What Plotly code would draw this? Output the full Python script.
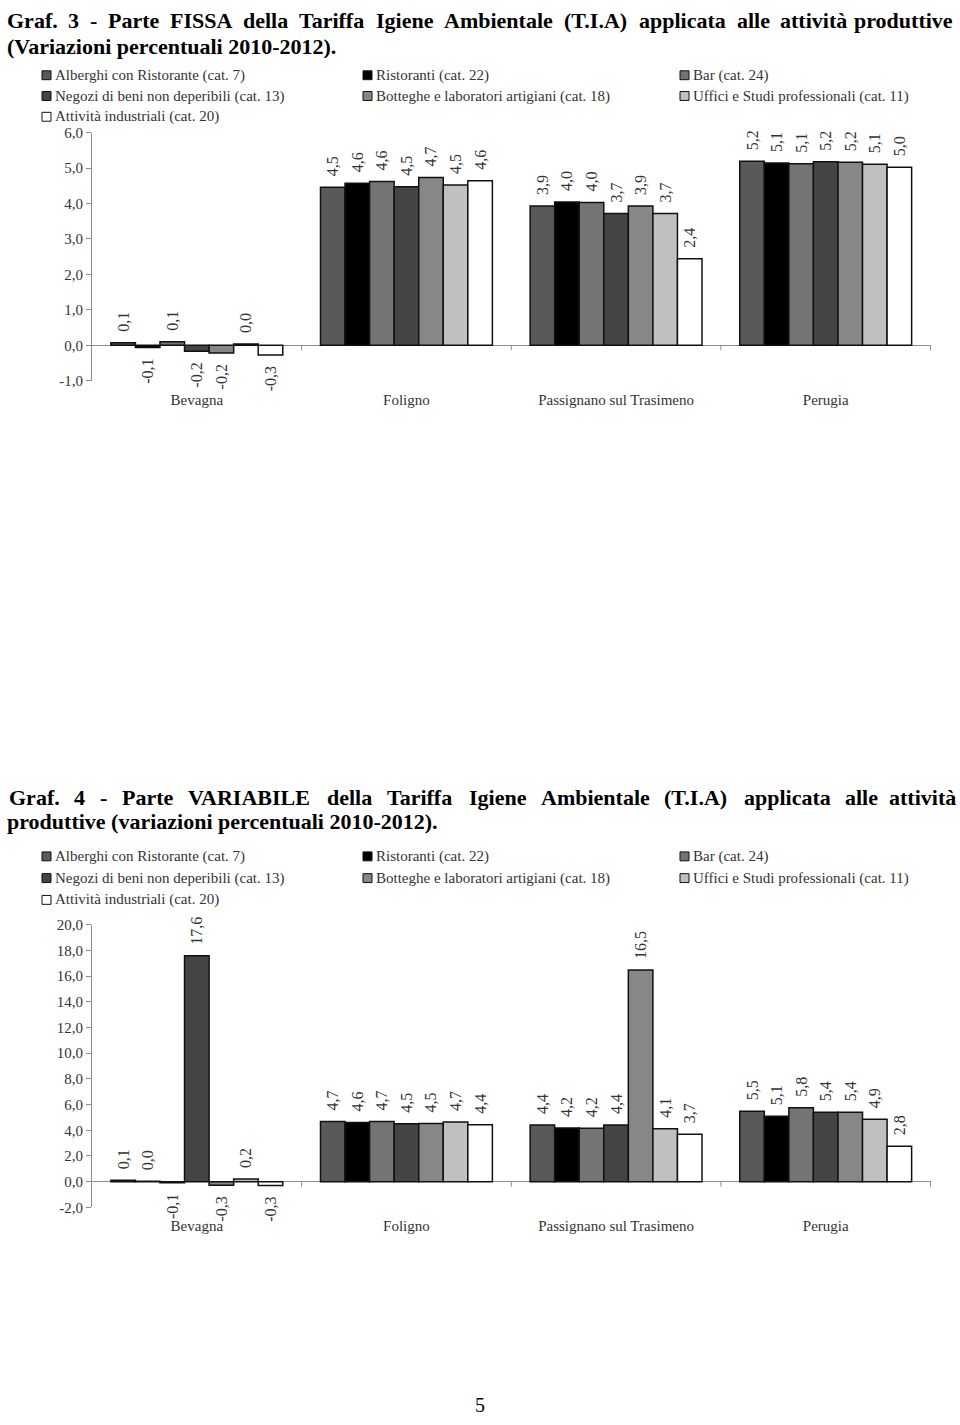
import numpy as np
import plotly.graph_objects as go

W, H = 960, 1425

categories = ["Bevagna", "Foligno", "Passignano sul Trasimeno", "Perugia"]
series_names = [
    "Alberghi con Ristorante (cat. 7)",
    "Ristoranti (cat. 22)",
    "Bar (cat. 24)",
    "Negozi di beni non deperibili (cat. 13)",
    "Botteghe e laboratori artigiani (cat. 18)",
    "Uffici e Studi professionali (cat. 11)",
    "Attività industriali (cat. 20)",
]
series_colors = ["#595959", "#000000", "#747474", "#454545", "#878787", "#c0c0c0", "#ffffff"]

# Graf. 3 - Parte FISSA (values per category: Bevagna, Foligno, Passignano, Perugia)
fissa_alberghi = [0.07, 4.46, 3.93, 5.19]
fissa_ristoranti = [-0.06, 4.57, 4.04, 5.14]
fissa_bar = [0.10, 4.62, 4.03, 5.12]
fissa_negozi = [-0.17, 4.47, 3.72, 5.18]
fissa_botteghe = [-0.22, 4.73, 3.93, 5.16]
fissa_uffici = [0.04, 4.52, 3.72, 5.11]
fissa_industriali = [-0.27, 4.64, 2.44, 5.02]

# Graf. 4 - Parte VARIABILE
var_alberghi = [0.12, 4.68, 4.40, 5.48]
var_ristoranti = [0.03, 4.60, 4.17, 5.09]
var_bar = [-0.08, 4.68, 4.16, 5.76]
var_negozi = [17.57, 4.50, 4.40, 5.40]
var_botteghe = [-0.28, 4.52, 16.47, 5.40]
var_uffici = [0.20, 4.65, 4.12, 4.86]
var_industriali = [-0.30, 4.42, 3.68, 2.76]

fissa_series = [fissa_alberghi, fissa_ristoranti, fissa_bar, fissa_negozi,
                fissa_botteghe, fissa_uffici, fissa_industriali]
var_series = [var_alberghi, var_ristoranti, var_bar, var_negozi,
              var_botteghe, var_uffici, var_industriali]

title1_line1 = "Graf. 3 - Parte FISSA della Tariffa Igiene Ambientale (T.I.A) applicata alle attività produttive"
title1_line2 = "(Variazioni percentuali 2010-2012)."
title2_line1 = "Graf. 4 - Parte VARIABILE della Tariffa Igiene Ambientale (T.I.A) applicata alle attività"
title2_line2 = "produttive (variazioni percentuali 2010-2012)."

SERIF = "Liberation Serif, Times New Roman, serif"
TXT = "#333333"
AX = "#8c8c8c"
TITLE_SIZE = 22

# approximate advance widths (per 1000 em) of a bold Times-metric serif font
BOLD_W = {" ": 250, "(": 333, ")": 333, "-": 333, ".": 250,
          "A": 722, "B": 667, "E": 667, "F": 611, "G": 778, "I": 389, "L": 667,
          "P": 611, "R": 722, "S": 556, "T": 667, "V": 722,
          "a": 500, "b": 556, "c": 444, "d": 556, "e": 444, "f": 333, "g": 500,
          "h": 556, "i": 278, "l": 278, "m": 833, "n": 556, "o": 500, "p": 556,
          "r": 444, "s": 389, "t": 333, "u": 556, "v": 500, "z": 444, "à": 500}


def word_width(w, size):
    return sum(BOLD_W.get(ch, 500) for ch in w) * size / 1000


def px_x(px):
    return px / W


def px_y(py):
    return 1 - py / H


def fmt(v):
    s = f"{v:.1f}".replace(".", ",")
    pad = "\u00a0\u00a0"
    return pad + s if v >= 0 else s + pad


def justified(line, x_left, x_right, y_mid, size):
    words = line.split(" ")
    widths = [word_width(w, size) for w in words]
    gap = (x_right - x_left - sum(widths)) / (len(words) - 1)
    out = []
    x = x_left
    for i, (w, wd) in enumerate(zip(words, widths)):
        if i == len(words) - 1:
            out.append(dict(text=w, x=px_x(x_right), xanchor="right", y=px_y(y_mid)))
        else:
            out.append(dict(text=w, x=px_x(x), xanchor="left", y=px_y(y_mid)))
        x += wd + gap
    return out


fig = go.Figure()

charts = [
    dict(series=fissa_series, xa="x", ya="y", top=126, bottom=377, rng=[-1, 6], dtick=1),
    dict(series=var_series, xa="x2", ya="y2", top=927, bottom=1213, rng=[-2, 20], dtick=2),
]

for ci, ch in enumerate(charts):
    for si, vals in enumerate(ch["series"]):
        fig.add_trace(go.Bar(
            x=categories, y=vals, name=series_names[si],
            xaxis=ch["xa"], yaxis=ch["ya"],
            marker=dict(color=series_colors[si], line=dict(color="#111111", width=1.5)),
            text=[fmt(v) for v in vals], textposition="outside", textangle=-90,
            constraintext="none", cliponaxis=False,
            textfont=dict(family=SERIF, size=16, color=TXT),
            showlegend=False, hoverinfo="skip",
        ))

X0, X1 = 92, 931
layout_axes = {}
for ci, ch in enumerate(charts):
    sfx = "" if ci == 0 else "2"
    tv = np.arange(ch["rng"][0], ch["rng"][1] + ch["dtick"] / 2, ch["dtick"])
    tt = [f"{v:.1f}".replace(".", ",") for v in tv]
    layout_axes["xaxis" + sfx] = dict(
        domain=[px_x(X0), px_x(X1)], anchor="y" + sfx, type="category",
        showline=False, ticks="", showgrid=False, zeroline=False,
        tickfont=dict(family=SERIF, size=15, color=TXT), ticklabelstandoff=8,
    )
    layout_axes["yaxis" + sfx] = dict(
        domain=[px_y(ch["bottom"]), px_y(ch["top"])], anchor="x" + sfx,
        range=ch["rng"], tickmode="array", tickvals=list(tv), ticktext=tt,
        showline=True, linecolor=AX, linewidth=1, ticks="outside", ticklen=5,
        tickcolor=AX, showgrid=False, zeroline=True, zerolinecolor=AX,
        zerolinewidth=1, tickfont=dict(family=SERIF, size=15, color=TXT),
    )

shapes = []
annotations = []

# category boundary ticks on the zero line
for ci, ch in enumerate(charts):
    for k in range(len(categories)):
        shapes.append(dict(
            type="line", xref=ch["xa"], yref=ch["ya"], x0=k + 0.5, x1=k + 0.5,
            ysizemode="pixel", yanchor=0, y0=0, y1=-5,
            line=dict(color=AX, width=1),
        ))

# titles (justified paragraph lines)
title_anns = []
title_anns += justified(title1_line1, 5, 955, 13, TITLE_SIZE)
title_anns.append(dict(text=title1_line2, x=px_x(5), y=px_y(39), xanchor="left"))
title_anns += justified(title2_line1, 7, 958, 798, TITLE_SIZE)
title_anns.append(dict(text=title2_line2, x=px_x(5), y=px_y(823), xanchor="left"))
for a in title_anns:
    a.update(xref="paper", yref="paper", showarrow=False, yanchor="middle",
             font=dict(family=SERIF, size=TITLE_SIZE, color="#000000"))
    a["text"] = "<b>" + a["text"] + "</b>"
annotations += title_anns

# legends
col_x = [42, 363, 680]
for ci, rows_y in enumerate([[68, 89, 110], [858, 880, 902]]):
    for si, name in enumerate(series_names):
        r, c = divmod(si, 3)
        mx, my = col_x[c], rows_y[r]
        shapes.append(dict(
            type="rect", xref="paper", yref="paper",
            x0=px_x(mx), x1=px_x(mx + 9), y0=px_y(my + 4.5), y1=px_y(my - 4.5),
            fillcolor=series_colors[si], line=dict(color="#111111", width=1),
        ))
        annotations.append(dict(
            text=name, x=px_x(mx + 11), y=px_y(my), xref="paper", yref="paper",
            xanchor="left", yanchor="middle", showarrow=False,
            font=dict(family=SERIF, size=15, color=TXT),
        ))

# page number
annotations.append(dict(text="5", x=px_x(480), y=px_y(1413), xref="paper", yref="paper",
                        xanchor="center", yanchor="middle", showarrow=False,
                        font=dict(family=SERIF, size=20, color="#000000")))

fig.update_layout(
    width=W, height=H, margin=dict(l=0, r=0, t=0, b=0),
    paper_bgcolor="white", plot_bgcolor="white",
    barmode="group", bargap=0.18, bargroupgap=0,
    font=dict(family=SERIF, color=TXT),
    shapes=shapes, annotations=annotations, **layout_axes,
)

fig.write_html("out.html")
